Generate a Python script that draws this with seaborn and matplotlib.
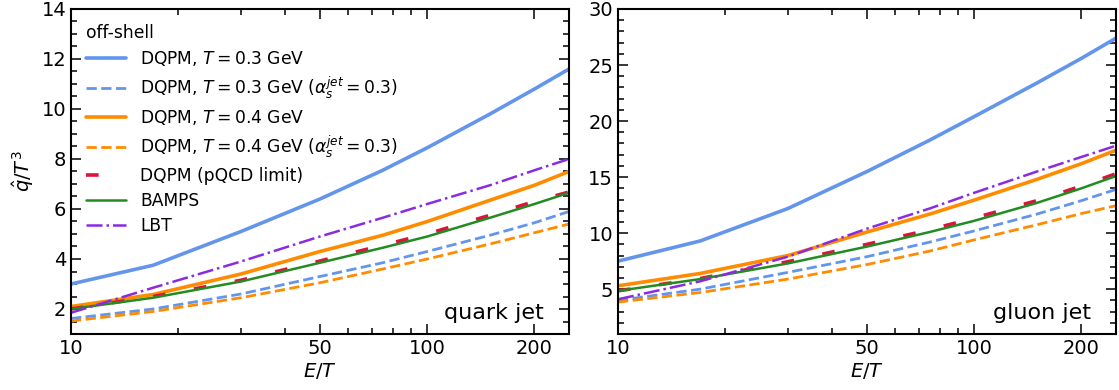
import matplotlib
matplotlib.use("Agg")
import matplotlib.pyplot as plt
from matplotlib.ticker import FixedLocator, FixedFormatter, MultipleLocator
import seaborn as sns
import pandas as pd

sns.set_theme(style="ticks", font="DejaVu Sans")
plt.rcParams['font.family'] = ['DejaVu Sans']
plt.rcParams['mathtext.fontset'] = 'dejavusans'
for key in ['text.color', 'axes.labelcolor', 'xtick.color', 'ytick.color', 'axes.edgecolor']:
    plt.rcParams[key] = 'black'

# E/T sampling points
e_over_t = [10, 17, 30, 50, 75, 100, 150, 200, 250]

# quark jet  (qhat/T^3)
q_dqpm_03 = [3.0, 3.75, 5.1, 6.4, 7.55, 8.45, 9.8, 10.8, 11.6]
q_dqpm_03_as = [1.62, 2.0, 2.6, 3.3, 3.85, 4.3, 4.95, 5.45, 5.9]
q_dqpm_04 = [2.1, 2.58, 3.4, 4.3, 4.95, 5.5, 6.35, 6.95, 7.5]
q_dqpm_04_as = [1.52, 1.9, 2.45, 3.05, 3.6, 4.0, 4.6, 5.05, 5.4]
q_pqcd = [2.0, 2.5, 3.15, 3.92, 4.55, 5.0, 5.75, 6.3, 6.68]
q_bamps = [2.0, 2.45, 3.1, 3.85, 4.45, 4.9, 5.65, 6.2, 6.65]
q_lbt = [1.85, 2.85, 3.9, 4.9, 5.65, 6.2, 6.95, 7.55, 8.0]

# gluon jet
g_dqpm_03 = [7.5, 9.3, 12.2, 15.5, 18.3, 20.4, 23.4, 25.6, 27.4]
g_dqpm_03_as = [4.0, 5.0, 6.5, 7.9, 9.2, 10.2, 11.7, 12.9, 13.9]
g_dqpm_04 = [5.3, 6.4, 8.0, 10.1, 11.7, 12.95, 14.8, 16.2, 17.4]
g_dqpm_04_as = [3.85, 4.7, 5.9, 7.2, 8.4, 9.4, 10.75, 11.75, 12.45]
g_pqcd = [4.85, 5.95, 7.45, 9.0, 10.3, 11.35, 12.9, 14.2, 15.3]
g_bamps = [4.85, 5.9, 7.3, 8.8, 10.1, 11.1, 12.7, 14.0, 15.1]
g_lbt = [4.1, 5.7, 7.9, 10.4, 12.2, 13.6, 15.5, 16.8, 17.8]

labels = [
    'DQPM, $T = 0.3$ GeV',
    'DQPM, $T = 0.3$ GeV ($\\alpha_s^{jet} = 0.3$)',
    'DQPM, $T = 0.4$ GeV',
    'DQPM, $T = 0.4$ GeV ($\\alpha_s^{jet} = 0.3$)',
    'DQPM (pQCD limit)',
    'BAMPS',
    'LBT',
]
colors = ['cornflowerblue', 'cornflowerblue', 'darkorange', 'darkorange',
          'crimson', 'forestgreen', 'blueviolet']
styles = ['-', '--', '-', '--', (0, (3.5, 8)), '-', '-.']
widths = [2.6, 2.0, 2.6, 2.0, 2.6, 1.8, 1.8]

quark = [q_dqpm_03, q_dqpm_03_as, q_dqpm_04, q_dqpm_04_as, q_pqcd, q_bamps, q_lbt]
gluon = [g_dqpm_03, g_dqpm_03_as, g_dqpm_04, g_dqpm_04_as, g_pqcd, g_bamps, g_lbt]

fig = plt.figure(figsize=(11.19, 3.9), dpi=100)
ax1 = fig.add_axes([71 / 1119, 56 / 390, 498 / 1119, 325 / 390])
ax2 = fig.add_axes([618 / 1119, 56 / 390, 498 / 1119, 325 / 390])


def draw(ax, series, text, ymax, major, minor, legend):
    for ys, lab, c, ls, lw in zip(series, labels, colors, styles, widths):
        df = pd.DataFrame({"x": e_over_t, "y": ys})
        sns.lineplot(data=df, x="x", y="y", ax=ax, color=c, linestyle=ls,
                     lw=lw, label=lab if legend else None, legend=False)
    ax.set_xscale('log')
    ax.set_xlim(10, 250)
    ax.set_ylim(1, ymax)
    ax.xaxis.set_major_locator(FixedLocator([10, 50, 100, 200]))
    ax.xaxis.set_major_formatter(FixedFormatter(['10', '50', '100', '200']))
    ax.xaxis.set_minor_locator(FixedLocator([20, 30, 40, 60, 70, 80, 90]))
    ax.xaxis.set_minor_formatter(FixedFormatter([]))
    ax.yaxis.set_major_locator(MultipleLocator(major))
    ax.yaxis.set_minor_locator(MultipleLocator(minor))
    ax.tick_params(which='both', direction='in', top=True, right=True,
                   labelsize=14, width=1.1, color='black')
    ax.tick_params(which='major', length=7)
    ax.tick_params(which='minor', length=4)
    for sp in ax.spines.values():
        sp.set_linewidth(1.5)
        sp.set_color('black')
    ax.set_xlabel('$E/T$', fontsize=14, labelpad=2)
    ax.set_ylabel('')
    ax.text(0.95, 0.035, text, transform=ax.transAxes, ha='right', va='bottom',
            fontsize=16)


draw(ax1, quark, 'quark jet', 14, 2, 0.5, True)
draw(ax2, gluon, 'gluon jet', 30, 5, 1, False)
ax1.set_ylabel('$\\hat{q}/T^3$', fontsize=14, labelpad=4)

leg = ax1.legend(loc='upper left', frameon=False, fontsize=12.3,
                 title='off-shell', title_fontsize=12.3, alignment='left',
                 handlelength=2.3, handletextpad=0.85, labelspacing=0.4,
                 borderaxespad=0.5)

fig.savefig('out.png', dpi=100)
